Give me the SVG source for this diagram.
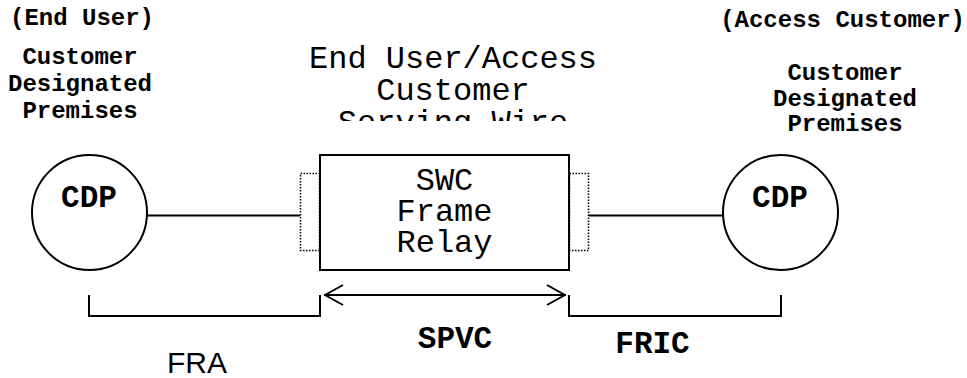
<svg xmlns="http://www.w3.org/2000/svg" width="967" height="378" viewBox="0 0 967 378">
<style>
.ln{fill:none;stroke:#000;stroke-width:2}
.dot{fill:none;stroke:#000;stroke-width:1.5;stroke-dasharray:1.5,1.5}
.bm{font-family:"Courier New","Liberation Mono",monospace;font-weight:bold;fill:#000}
.rm{font-family:"Courier New","Liberation Mono",monospace;fill:#000}
.ss{font-family:"Liberation Sans",Arial,sans-serif;fill:#000}
</style>
<defs>
<marker id="chev" viewBox="0 0 20 22" refX="20" refY="11" markerWidth="20" markerHeight="22" markerUnits="userSpaceOnUse" orient="auto-start-reverse">
<path d="M1,1 L19,11 L1,21" fill="none" stroke="#000" stroke-width="2"/>
</marker>
<clipPath id="topclip"><rect x="250" y="0" width="420" height="121"/></clipPath>
</defs>
<rect width="967" height="378" fill="#fff"/>
<g id="labels-left">
<text class="bm" x="10" y="25" font-size="24">(End User)</text>
<text class="bm" x="80" y="64" font-size="24" text-anchor="middle">Customer</text>
<text class="bm" x="80" y="91" font-size="24" text-anchor="middle">Designated</text>
<text class="bm" x="80" y="118" font-size="24" text-anchor="middle">Premises</text>
</g>
<g id="labels-right">
<text class="bm" x="965" y="27" font-size="24" text-anchor="end">(Access Customer)</text>
<text class="bm" x="845" y="80" font-size="24" text-anchor="middle">Customer</text>
<text class="bm" x="845" y="106" font-size="24" text-anchor="middle">Designated</text>
<text class="bm" x="845" y="131" font-size="24" text-anchor="middle">Premises</text>
</g>
<g id="title" clip-path="url(#topclip)">
<text class="rm" x="453" y="68" font-size="32" text-anchor="middle">End User/Access</text>
<text class="rm" x="453" y="100" font-size="32" text-anchor="middle">Customer</text>
<text class="rm" x="453" y="132" font-size="32" text-anchor="middle">Serving Wire</text>
</g>
<g id="connectors">
<line class="ln" x1="147" y1="215.5" x2="300" y2="215.5"/>
<line class="ln" x1="589" y1="215.5" x2="723" y2="215.5"/>
<path class="ln" d="M89,295 V316 H320 V295"/>
<path class="ln" d="M569,295 V316 H781 V295"/>
<line class="ln" x1="324" y1="295" x2="566" y2="295" marker-start="url(#chev)" marker-end="url(#chev)"/>
</g>
<g id="cdp-left">
<circle class="ln" cx="89.5" cy="212.5" r="57.5"/>
<text class="bm" x="89" y="207" font-size="31" text-anchor="middle">CDP</text>
</g>
<g id="swc">
<rect class="dot" x="300.5" y="173.5" width="19" height="77"/>
<rect class="dot" x="569.5" y="173.5" width="19" height="77"/>
<rect class="ln" x="320" y="155" width="249" height="115"/>
<text class="rm" x="444.5" y="190" font-size="32" text-anchor="middle">SWC</text>
<text class="rm" x="444.5" y="221" font-size="32" text-anchor="middle">Frame</text>
<text class="rm" x="444.5" y="252" font-size="32" text-anchor="middle">Relay</text>
</g>
<g id="cdp-right">
<circle class="ln" cx="780.5" cy="212.5" r="57.5"/>
<text class="bm" x="780" y="207" font-size="31" text-anchor="middle">CDP</text>
</g>
<g id="bottom-labels">
<text class="ss" x="197" y="373" font-size="30" text-anchor="middle">FRA</text>
<text class="bm" x="455" y="348" font-size="31" text-anchor="middle">SPVC</text>
<text class="bm" x="652.5" y="353" font-size="31" text-anchor="middle">FRIC</text>
</g>
</svg>
